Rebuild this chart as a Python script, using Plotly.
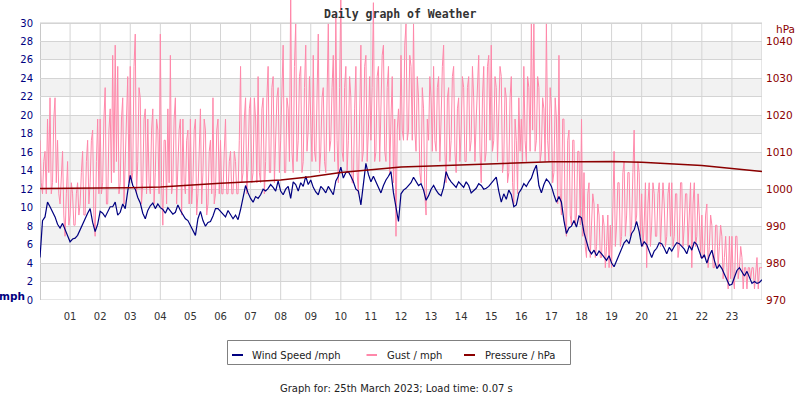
import plotly.graph_objects as go

# ---------------- data ----------------
hour_labels = ["%02d" % h for h in range(1, 24)]
hour_ticks = list(range(1, 24))

# Wind speed, mph, every 5 minutes from 00:00 to 24:00
wind_mph = [
    4.6, 8.6, 9.0, 10.6, 10.1, 9.6, 9.0, 8.2, 7.8, 8.3, 7.6, 6.9,
    6.3, 6.6, 6.7, 7.0, 7.6, 8.3, 8.8, 9.4, 9.9, 8.4, 7.4, 8.2,
    9.6, 9.4, 9.0, 9.6, 10.1, 10.1, 10.6, 9.2, 9.5, 10.4, 9.9, 11.8,
    13.5, 12.4, 12.0, 11.1, 10.5, 9.4, 8.8, 9.7, 10.2, 10.5, 9.9, 10.4,
    10.0, 9.8, 9.4, 10.0, 9.6, 9.3, 9.5, 10.3, 9.7, 9.2, 8.8, 8.6,
    8.1, 7.6, 7.0, 8.8, 9.6, 8.6, 8.0, 8.4, 8.5, 9.1, 9.9, 9.9,
    9.6, 9.3, 9.0, 9.7, 9.3, 8.8, 9.2, 8.7, 9.8, 11.2, 12.4, 11.6,
    11.0, 10.6, 11.2, 11.0, 11.4, 12.0, 11.8, 12.1, 12.5, 12.2, 11.8, 12.9,
    11.8, 11.4, 12.0, 12.3, 11.0, 12.8, 12.5, 11.8, 12.7, 12.3, 13.4, 12.5,
    13.0, 12.2, 11.7, 11.4, 12.3, 12.0, 11.6, 12.3, 11.8, 11.4, 12.9, 13.4,
    14.4, 13.2, 13.8, 13.9, 13.4, 12.8, 12.0, 11.8, 10.3, 12.6, 14.8, 13.6,
    12.8, 13.4, 12.8, 12.2, 11.6, 12.4, 13.0, 13.4, 13.9, 11.6, 9.8, 8.5,
    11.5, 11.9, 12.1, 12.4, 12.7, 13.3, 12.8, 12.4, 12.6, 11.9, 10.8, 11.3,
    12.0, 12.4, 11.9, 11.5, 11.3, 12.2, 13.9, 13.2, 12.8, 12.5, 12.2, 12.8,
    12.5, 12.2, 12.8, 12.4, 11.6, 11.9, 12.1, 12.6, 12.4, 12.0, 12.1, 12.3,
    12.6, 13.0, 13.3, 11.8, 10.6, 11.5, 10.9, 11.9, 11.4, 10.1, 10.3, 11.6,
    12.0, 12.6, 12.3, 12.8, 13.2, 14.0, 14.6, 12.4, 11.6, 12.5, 13.1, 12.8,
    12.3, 11.4, 10.6, 11.2, 10.6, 8.6, 7.2, 7.8, 8.0, 8.6, 7.9, 9.1,
    8.9, 7.3, 6.2, 5.4, 5.0, 5.4, 4.8, 5.3, 5.0, 4.6, 4.3, 4.8,
    4.0, 3.6, 4.3, 4.9, 5.6, 6.2, 6.5, 6.1, 7.2, 7.6, 8.5, 7.4,
    5.8, 6.3, 6.0, 5.2, 4.6, 5.3, 5.6, 6.2, 6.1, 5.6, 5.0, 5.7,
    5.3, 5.8, 6.2, 6.1, 5.8, 5.5, 5.0, 5.9, 5.4, 6.3, 6.0, 5.2,
    4.5, 4.9, 4.0, 4.8, 5.4, 4.3, 3.4, 3.8, 3.4, 2.8, 2.2, 1.6,
    1.7, 2.5, 3.2, 3.5, 3.1, 2.6, 3.1, 2.4, 1.8, 2.0, 1.8, 1.9,
    2.2,
]

# Gust, mph, every 2.5 minutes from 00:00 to 24:00
gust_mph = [
    17.3, 12.7, 11.5, 15.0, 16.1, 11.5, 19.6, 13.8, 21.9, 11.5, 12.7, 19.6, 21.9, 12.7, 17.3, 11.5, 10.4, 13.8, 16.1, 9.2, 6.9, 11.5, 15.0, 8.1,
    9.2, 12.7, 11.5, 8.1, 8.1, 11.5, 12.7, 9.2, 10.4, 13.8, 16.1, 9.2, 9.2, 15.0, 17.3, 10.4, 12.7, 17.3, 18.4, 9.2, 6.9, 15.0, 19.6, 11.5,
    19.6, 11.5, 12.7, 19.6, 23.0, 10.4, 10.4, 18.4, 20.7, 12.7, 26.5, 13.8, 27.6, 15.0, 25.3, 11.5, 12.7, 19.6, 21.9, 10.4, 15.0, 19.6, 24.2, 12.7,
    25.3, 12.7, 13.8, 25.3, 28.8, 11.5, 15.0, 23.0, 21.9, 10.4, 12.7, 19.6, 20.7, 11.5, 19.6, 12.7, 11.5, 18.4, 20.7, 10.4, 13.8, 19.6, 18.4, 11.5,
    28.8, 12.7, 8.1, 17.3, 17.3, 10.4, 20.7, 12.7, 26.5, 11.5, 12.7, 19.6, 21.9, 10.4, 13.8, 18.4, 19.6, 9.2, 19.6, 12.7, 11.5, 17.3, 18.4, 10.4,
    19.6, 10.4, 12.7, 18.4, 19.6, 9.2, 11.5, 17.3, 20.7, 10.4, 13.8, 19.6, 18.4, 9.2, 10.4, 16.1, 17.3, 11.5, 21.9, 10.4, 11.5, 18.4, 19.6, 11.5,
    17.3, 11.5, 11.5, 16.1, 19.6, 11.5, 11.5, 15.0, 16.1, 11.5, 11.5, 16.1, 15.0, 11.5, 11.5, 17.3, 25.3, 12.7, 13.8, 19.6, 21.9, 11.5, 15.0, 20.7,
    21.9, 12.7, 13.8, 21.9, 19.6, 12.7, 24.2, 13.8, 12.7, 20.7, 21.9, 11.5, 15.0, 21.9, 25.3, 13.8, 13.8, 23.0, 24.2, 12.7, 17.3, 21.9, 23.0, 13.8,
    17.3, 23.0, 27.6, 13.8, 13.8, 21.9, 20.7, 15.0, 33.4, 16.1, 13.8, 25.3, 29.9, 15.0, 17.3, 24.2, 25.3, 13.8, 15.0, 23.0, 27.6, 16.1, 18.4, 24.2,
    19.6, 15.0, 26.5, 16.1, 15.0, 24.2, 28.8, 13.8, 16.1, 21.9, 23.0, 15.0, 13.8, 21.9, 29.9, 16.1, 17.3, 23.0, 26.5, 15.0, 31.1, 17.3, 12.7, 23.0,
    33.4, 16.1, 15.0, 23.0, 25.3, 13.8, 17.3, 24.2, 21.9, 12.7, 12.7, 20.7, 25.3, 13.8, 11.5, 19.6, 27.6, 15.0, 16.1, 25.3, 26.5, 15.0, 18.4, 24.2,
    17.3, 23.0, 32.2, 15.0, 16.1, 24.2, 25.3, 15.0, 19.6, 26.5, 27.6, 16.1, 15.0, 23.0, 25.3, 13.8, 19.6, 24.2, 12.7, 19.6, 6.9, 18.4, 20.7, 17.3,
    26.5, 18.4, 17.3, 27.6, 29.9, 17.3, 18.4, 26.5, 25.3, 17.3, 29.9, 18.4, 16.1, 24.2, 21.9, 13.8, 12.7, 23.0, 20.7, 11.5, 9.2, 19.6, 17.3, 24.2,
    21.9, 16.1, 25.3, 17.3, 16.1, 23.0, 24.2, 15.0, 19.6, 25.3, 27.6, 16.1, 12.7, 21.9, 23.0, 15.0, 17.3, 24.2, 25.3, 16.1, 13.8, 20.7, 21.9, 15.0,
    18.4, 24.2, 23.0, 15.0, 15.0, 23.0, 24.2, 16.1, 17.3, 25.3, 21.9, 15.0, 19.6, 24.2, 26.5, 16.1, 12.7, 21.9, 25.3, 15.0, 16.1, 25.3, 26.5, 17.3,
    27.6, 16.1, 17.3, 24.2, 23.0, 15.0, 19.6, 25.3, 24.2, 13.8, 15.0, 23.0, 21.9, 12.7, 13.8, 21.9, 24.2, 12.7, 10.4, 19.6, 17.3, 11.5, 21.9, 16.1,
    19.6, 15.0, 25.3, 17.3, 15.0, 24.2, 23.0, 16.1, 29.9, 18.4, 29.9, 16.1, 17.3, 24.2, 23.0, 15.0, 16.1, 21.9, 20.7, 15.0, 29.9, 17.3, 15.0, 23.0,
    20.7, 12.7, 13.8, 21.9, 19.6, 10.4, 26.5, 11.5, 9.2, 19.6, 19.6, 8.1, 6.9, 17.3, 18.4, 9.2, 8.1, 17.3, 17.3, 8.1, 9.2, 16.1, 16.1, 8.1,
    19.6, 6.9, 13.8, 5.8, 4.6, 11.5, 12.7, 4.6, 8.1, 11.5, 10.4, 4.6, 5.8, 10.4, 9.2, 4.6, 4.6, 9.2, 8.1, 3.5, 5.8, 9.2, 3.5, 8.1,
    3.5, 9.2, 16.1, 5.8, 8.1, 12.7, 12.7, 5.8, 6.9, 13.8, 15.0, 6.9, 9.2, 13.8, 13.8, 6.9, 8.1, 13.8, 18.4, 8.1, 9.2, 15.0, 13.8, 6.9,
    11.5, 5.8, 8.1, 12.7, 3.5, 10.4, 12.7, 5.8, 8.1, 12.7, 11.5, 6.9, 6.9, 11.5, 12.7, 5.8, 9.2, 12.7, 10.4, 5.8, 6.9, 11.5, 12.7, 6.9,
    12.7, 5.8, 6.9, 11.5, 11.5, 4.6, 5.8, 12.7, 12.7, 5.8, 8.1, 11.5, 11.5, 5.8, 9.2, 12.7, 3.5, 10.4, 12.7, 5.8, 6.9, 11.5, 9.2, 4.6,
    9.2, 4.6, 4.6, 9.2, 10.4, 3.5, 5.8, 9.2, 8.1, 3.5, 3.5, 8.1, 8.1, 3.5, 5.8, 8.1, 6.9, 2.3, 4.6, 6.9, 3.5, 1.2, 6.9, 2.3,
    6.9, 2.3, 1.2, 6.9, 6.9, 2.3, 3.5, 5.8, 4.6, 1.2, 3.5, 3.5, 1.2, 3.5, 3.5, 2.3, 3.5, 3.5, 1.2, 3.5, 4.6, 1.2, 3.5, 3.5,
    3.5,
]

# Pressure, hPa, hourly from 00:00 to 24:00
pressure_hpa = [
    1000.2, 1000.2, 1000.3, 1000.4, 1000.6, 1001.0, 1001.6, 1002.0, 1002.5,
    1003.4, 1004.5, 1005.3, 1006.0, 1006.3, 1006.6, 1006.9, 1007.2, 1007.4,
    1007.4, 1007.5, 1007.3, 1006.9, 1006.4, 1005.6, 1004.8,
]

mph_ticks = list(range(0, 31, 2))
hpa_ticks = list(range(970, 1041, 10))

# time positions in hours
wind_t = [i / 12 for i in range(len(wind_mph))]
gust_t = [i / 24 for i in range(len(gust_mph))]
pres_t = [float(i) for i in range(len(pressure_hpa))]

# ---------------- styling ----------------
NAVY = "#000080"
PINK = "#ff88aa"
DRED = "#8b0000"
GRID = "#d4d4d4"
BAND = "#f2f2f2"

W, H = 800, 400
ML, MR, MT, MB = 40, 38, 0, 100
YTOP = 300 / (277.0 / 30)  # mph value at the very top of the canvas

def px(xp):
    return (xp - ML) / (W - ML - MR)

def py(yp):
    return (H - MB - yp) / (H - MT - MB)

fig = go.Figure()

fig.add_trace(go.Scatter(x=gust_t, y=gust_mph, mode="lines", name="Gust / mph",
                         line=dict(color=PINK, width=1), showlegend=False,
                         hoverinfo="skip"))
fig.add_trace(go.Scatter(x=wind_t, y=wind_mph, mode="lines", name="Wind Speed /mph",
                         line=dict(color=NAVY, width=1.2), showlegend=False))
fig.add_trace(go.Scatter(x=pres_t, y=pressure_hpa, mode="lines", name="Pressure / hPa",
                         yaxis="y2", line=dict(color=DRED, width=1.5), showlegend=False))

shapes = []
# alternating bands
for lo in range(2, 30, 4):
    shapes.append(dict(type="rect", xref="x", yref="y", x0=0, x1=24, y0=lo, y1=lo + 2,
                       fillcolor=BAND, line=dict(width=0), layer="below"))
# vertical hour grid lines (stop at 30 mph)
for h in hour_ticks:
    shapes.append(dict(type="line", xref="x", yref="y", x0=h, x1=h, y0=0, y1=30,
                       line=dict(color=GRID, width=1), layer="below"))
# frame
shapes.append(dict(type="rect", xref="x", yref="y", x0=0, x1=24, y0=0, y1=30,
                   line=dict(color="#cccccc", width=1), layer="below"))
shapes.append(dict(type="line", xref="x", yref="y", x0=0, x1=0, y0=0, y1=30,
                   line=dict(color="#c8c8c8", width=2), layer="below"))

# legend (drawn by hand for exact sizing)
shapes.append(dict(type="rect", xref="paper", yref="paper",
                   x0=px(227.5), x1=px(570.5), y0=py(340.5), y1=py(364.5),
                   line=dict(color="#808080", width=1), fillcolor="white"))
leg_y = py(355)
for (a, b, c) in [(232, 243, NAVY), (366.5, 377, PINK), (464, 475, DRED)]:
    shapes.append(dict(type="line", xref="paper", yref="paper", x0=px(a), x1=px(b),
                       y0=leg_y, y1=leg_y, line=dict(color=c, width=2)))

TXT = dict(family="DejaVu Sans", size=10, color="#222222")
annotations = [
    dict(text="<b>Daily graph of Weather</b>", xref="paper", yref="paper", x=px(400), y=py(13.5),
         showarrow=False, font=dict(family="DejaVu Sans Mono", size=11.5, color="#333333"),
         xanchor="center", yanchor="middle"),
    dict(text="<b>mph</b>", xref="paper", yref="paper", x=px(12), y=py(296),
         showarrow=False, font=dict(family="DejaVu Sans", size=10.5, color=NAVY),
         xanchor="center", yanchor="middle"),
    dict(text="hPa", xref="paper", yref="paper", x=px(786), y=py(29),
         showarrow=False, font=dict(family="DejaVu Sans", size=10.5, color=DRED),
         xanchor="center", yanchor="middle"),
    dict(text="Wind Speed /mph", xref="paper", yref="paper", x=px(250), y=leg_y,
         showarrow=False, font=TXT, xanchor="left", yanchor="middle"),
    dict(text="Gust / mph", xref="paper", yref="paper", x=px(385), y=leg_y,
         showarrow=False, font=TXT, xanchor="left", yanchor="middle"),
    dict(text="Pressure / hPa", xref="paper", yref="paper", x=px(482.5), y=leg_y,
         showarrow=False, font=TXT, xanchor="left", yanchor="middle"),
    dict(text="Graph for: 25th March 2023; Load time: 0.07 s", xref="paper", yref="paper",
         x=px(396), y=py(388.5), showarrow=False, font=TXT,
         xanchor="center", yanchor="middle"),
]

fig.update_layout(
    width=W, height=H,
    margin=dict(l=ML, r=MR, t=MT, b=MB, pad=0),
    paper_bgcolor="white", plot_bgcolor="white",
    showlegend=False,
    shapes=shapes, annotations=annotations,
    xaxis=dict(range=[0, 24], tickvals=hour_ticks, ticktext=hour_labels,
               showgrid=False, zeroline=False, showline=False, ticks="",
               ticklabelstandoff=9,
               tickfont=dict(family="DejaVu Sans", size=10, color="#333333")),
    yaxis=dict(range=[0, YTOP], tickvals=mph_ticks, showgrid=True, gridcolor=GRID,
               gridwidth=1, zeroline=False, showline=False, ticks="",
               ticklabelstandoff=6,
               tickfont=dict(family="DejaVu Sans", size=10, color=NAVY)),
    yaxis2=dict(range=[970, 970 + YTOP * 2.5], tickvals=hpa_ticks, overlaying="y",
                side="right", showgrid=False, zeroline=False, showline=False, ticks="",
                ticklabelstandoff=3,
                tickfont=dict(family="DejaVu Sans", size=10.5, color=DRED)),
)

fig.write_html("out.html")
